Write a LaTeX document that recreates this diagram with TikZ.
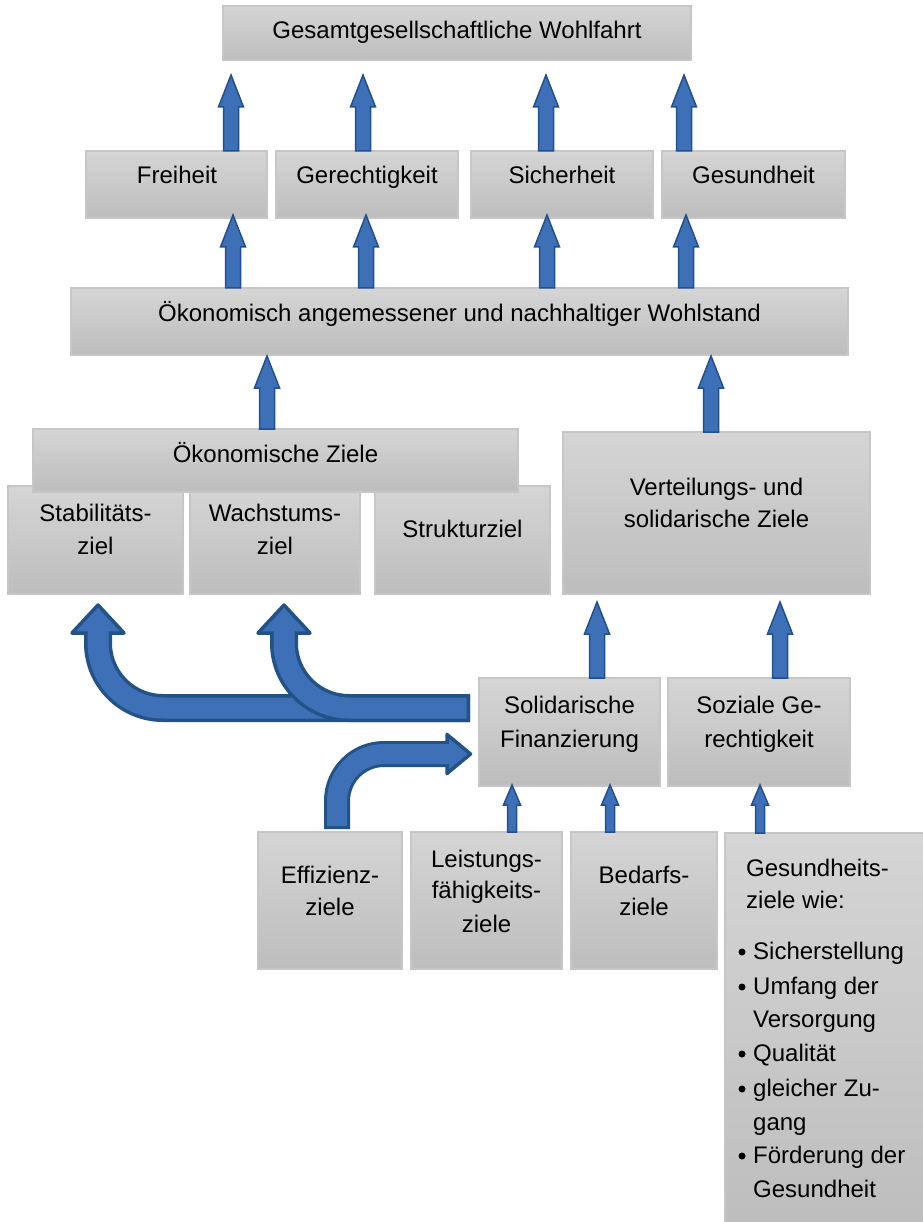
\documentclass[tikz,border=0pt]{standalone}
\usepackage{fontspec}
\setmainfont{Liberation Sans}
\usetikzlibrary{calc}
\definecolor{boxtop}{RGB}{213,213,213}
\definecolor{boxbot}{RGB}{189,189,189}
\definecolor{boxline}{RGB}{198,198,198}
\definecolor{arrfill}{RGB}{62,112,184}
\definecolor{arrline}{RGB}{34,79,142}
\definecolor{carrline}{RGB}{34,82,134}
\newcommand\boxat[5]{\node[box, anchor=north west, minimum width=#4pt, minimum height=#5pt] (#1) at (#2,#3) {};}
\newcommand\blockup[6]{%
  \draw[barrow] let \p1=(#2), \p2=(#3) in
  ({#1pt-#4pt},\y1) -- ({#1pt-#4pt},{\y2-#6pt}) -- ({#1pt-#5pt},{\y2-#6pt}) -- (#1pt,\y2)
  -- ({#1pt+#5pt},{\y2-#6pt}) -- ({#1pt+#4pt},{\y2-#6pt}) -- ({#1pt+#4pt},\y1) -- cycle;}
\begin{document}
\begin{tikzpicture}[x=1pt,y=-1pt,
  box/.style={draw=boxline, line width=1.2pt, top color=boxtop, bottom color=boxbot, inner sep=0pt, outer sep=0pt},
  lbl/.style={anchor=base, inner sep=0pt, font=\fontsize{24}{30}\selectfont},
  lbll/.style={lbl, anchor=base west},
  barrow/.style={draw=arrline, fill=arrfill, line width=1.5pt, line join=miter},
  cb/.style={draw=carrline, line width=28pt},
  cf/.style={draw=arrfill, line width=21pt},
  cb3/.style={draw=carrline, line width=26pt},
  cf3/.style={draw=arrfill, line width=20pt},
  chead/.style={fill=arrfill, draw=carrline, line width=3.5pt, line join=round},
  bul/.style={circle, fill=black, inner sep=0pt, minimum size=7pt}
]
\useasboundingbox (0,0) rectangle (922,1222);

% boxes
\boxat{top}{223}{6}{468}{54}
\boxat{fr}{86}{151}{181}{67}
\boxat{ge}{276}{151}{182}{67}
\boxat{si}{471}{151}{182}{67}
\boxat{gs}{662}{151}{183}{67}
\boxat{oek}{71}{288}{777}{67}
\boxat{stz}{8}{486}{175}{108}
\boxat{wz}{190}{486}{170}{108}
\boxat{skz}{375}{486}{175}{108}
\boxat{oz}{33}{429}{485}{63}
\boxat{vz}{563}{432}{307}{162}
\boxat{sf}{479}{678}{181}{108}
\boxat{sg}{668}{678}{182}{108}
\boxat{ez}{258}{832}{144}{137}
\boxat{lz}{411}{832}{151}{137}
\boxat{bz}{571}{832}{146}{137}
\boxat{gz}{725}{833}{210}{400}

% labels
\node[lbl] (ttop) at (457,39) {Gesamtgesellschaftliche Wohlfahrt};
\node[lbl] (tfr) at (177,184) {Freiheit};
\node[lbl] (tge) at (367,184) {Gerechtigkeit};
\node[lbl] (tsi) at (562,184) {Sicherheit};
\node[lbl] (tgs) at (753.5,184) {Gesundheit};
\node[lbl] (toek) at (459.5,321) {Ökonomisch angemessener und nachhaltiger Wohlstand};
\node[lbl] (toz) at (275.5,462) {Ökonomische Ziele};
\node[lbl] (tstz1) at (95.5,521) {Stabilitäts-};
\node[lbl] (tstz2) at (95.5,554) {ziel};
\node[lbl] (twz1) at (275,521) {Wachstums-};
\node[lbl] (twz2) at (275,554) {ziel};
\node[lbl] (tskz) at (462.5,537) {Strukturziel};
\node[lbl] (tvz1) at (716.5,495) {Verteilungs- und};
\node[lbl] (tvz2) at (716.5,527) {solidarische Ziele};
\node[lbl] (tsf1) at (569.5,713) {Solidarische};
\node[lbl] (tsf2) at (569.5,747) {Finanzierung};
\node[lbl] (tsg1) at (759,713) {Soziale Ge-};
\node[lbl] (tsg2) at (759,747) {rechtigkeit};
\node[lbl] (tez1) at (330,883) {Effizienz-};
\node[lbl] (tez2) at (330,915) {ziele};
\node[lbl] (tlz1) at (486.5,867) {Leistungs-};
\node[lbl] (tlz2) at (486.5,898) {fähigkeits-};
\node[lbl] (tlz3) at (486.5,932) {ziele};
\node[lbl] (tbz1) at (644,883) {Bedarfs-};
\node[lbl] (tbz2) at (644,915) {ziele};
\node[lbll] (tgz1) at (746,876) {Gesundheits-};
\node[lbll] (tgz2) at (746,908) {ziele wie:};
\node[lbll] (tgz3) at (753,959) {Sicherstellung};
\node[lbll] (tgz4) at (753,994) {Umfang der};
\node[lbll] (tgz5) at (753,1027) {Versorgung};
\node[lbll] (tgz6) at (753,1061) {Qualität};
\node[lbll] (tgz7) at (753,1096) {gleicher Zu-};
\node[lbll] (tgz8) at (753,1130) {gang};
\node[lbll] (tgz9) at (753,1163) {Förderung der};
\node[lbll] (tgz10) at (753,1197) {Gesundheit};
\node[bul] (b1) at (742,952) {};
\node[bul] (b2) at (742,987) {};
\node[bul] (b3) at (742,1054) {};
\node[bul] (b4) at (742,1089) {};
\node[bul] (b5) at (742,1156) {};

% straight block arrows
\blockup{231}{fr.north}{$(top.south)+(0,15)$}{7.5}{12.5}{32}
\blockup{363}{ge.north}{$(top.south)+(0,15)$}{7.5}{12.5}{32}
\blockup{546}{si.north}{$(top.south)+(0,15)$}{7.5}{12.5}{32}
\blockup{684}{gs.north}{$(top.south)+(0,15)$}{7.5}{12.5}{32}
\blockup{233}{oek.north}{$(fr.south)+(0,-3)$}{7.5}{12.5}{32}
\blockup{366}{oek.north}{$(ge.south)+(0,-3)$}{7.5}{12.5}{32}
\blockup{547}{oek.north}{$(si.south)+(0,-3)$}{7.5}{12.5}{32}
\blockup{686}{oek.north}{$(gs.south)+(0,-3)$}{7.5}{12.5}{32}
\blockup{267}{oz.north}{$(oek.south)+(0,1)$}{7.5}{12.5}{32}
\blockup{711}{vz.north}{$(oek.south)+(0,1)$}{7.5}{12.5}{32}
\blockup{597}{sf.north}{$(vz.south)+(0,8)$}{7.5}{12.5}{32}
\blockup{780}{sg.north}{$(vz.south)+(0,8)$}{7.5}{12.5}{32}
\blockup{512}{lz.north}{$(sf.south)+(0,-1)$}{4.5}{8.5}{20}
\blockup{610}{bz.north}{$(sf.south)+(0,-1)$}{4.5}{8.5}{20}
\blockup{760}{gz.north}{$(sg.south)+(0,-1)$}{4.5}{8.5}{20}

% curved arrow 1 (to Stabilitaetsziel)
\coordinate (a1s) at (470,708);
\coordinate (a1e) at (98,634);
\draw[cb] (a1s) -- (163,708) .. controls (127.1,708) and (98,678.9) .. (98,643) -- (a1e);
\draw[chead] (72,633) -- (98,605) -- (124,633) -- cycle;
\draw[cf, shorten <=3.5pt] (a1s) -- (163,708) .. controls (127.1,708) and (98,678.9) .. (98,643) -- (98,630);

% curved arrow 2 (to Wachstumsziel)
\coordinate (a2e) at (284,634);
\draw[cb] (a1s) -- (349,708) .. controls (313.1,708) and (284,678.9) .. (284,643) -- (a2e);
\draw[chead] (258,633) -- (284,605) -- (310,633) -- cycle;
\draw[cf, shorten <=3.5pt] (a1s) -- (349,708) .. controls (313.1,708) and (284,678.9) .. (284,643) -- (284,630);

% curved arrow 3 (Effizienzziele to Solidarische Finanzierung)
\coordinate (a3s) at (337,829);
\coordinate (a3e) at (448,754);
\draw[cb3] (a3s) -- (337,801) .. controls (337,775) and (358,754) .. (384,754) -- (a3e);
\draw[chead] (447,734.5) -- (470.5,754) -- (447,773.5) -- cycle;
\draw[cf3, shorten <=3pt] (a3s) -- (337,801) .. controls (337,775) and (358,754) .. (384,754) -- (451,754);
\end{tikzpicture}
\end{document}
